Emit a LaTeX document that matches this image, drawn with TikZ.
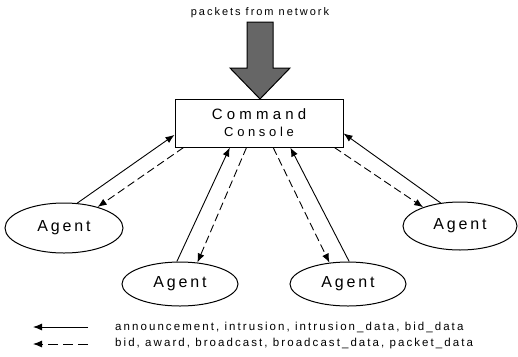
\documentclass[tikz,border=0pt]{standalone}
\usepackage{fontspec}
\setmainfont{Liberation Sans}
\newfontfamily\spacedfont[LetterSpace=18]{Liberation Sans}
\newfontfamily\widefont[LetterSpace=28]{Liberation Sans}
\usetikzlibrary{shapes.geometric,arrows.meta}

\begin{document}
\begin{tikzpicture}[x=1pt,y=1pt]
    \tikzstyle{agent}=[ellipse,draw,line width=1pt,inner sep=0pt,font=\spacedfont\fontsize{16}{18}\selectfont]
    \tikzstyle{msg}=[line width=0.9pt,-{Latex[length=9pt,width=7pt]}]
    \tikzstyle{bidmsg}=[msg,dash pattern=on 8pt off 4pt]
    \tikzstyle{legendtext}=[anchor=west,inner sep=0pt,font=\spacedfont\fontsize{11.5}{13}\selectfont]
    \useasboundingbox (0,0) rectangle (518,-356);

    \node[inner sep=0pt,font=\spacedfont\fontsize{11}{13}\selectfont] (source) at (260,-13) {packets from network};
    \draw[line width=1pt,fill=black!60] (247,-22) -- (273,-22) -- (273,-68) -- (290,-68)
        -- (260,-99) -- (230,-68) -- (247,-68) -- cycle;

    \node[rectangle,draw,line width=1pt,minimum width=168pt,minimum height=48pt,align=center,
        font=\widefont\fontsize{15}{17}\selectfont] (console) at (259,-123)
        {Command\\{\fontsize{13}{17}\selectfont Console}};

    \node[agent,minimum width=118pt,minimum height=50pt] (agentA) at (64,-228) {Agent};
    \node[agent,minimum width=116pt,minimum height=44pt] (agentB) at (180,-284) {Agent};
    \node[agent,minimum width=116pt,minimum height=44pt] (agentC) at (348,-284) {Agent};
    \node[agent,minimum width=114pt,minimum height=48pt] (agentD) at (460,-226) {Agent};

    \draw[msg] (agentA.62) -- (console.188);
    \draw[bidmsg] (console.198) -- (agentA.32);
    \draw[msg] (agentB.98) -- (console.220);
    \draw[bidmsg] (console.243) -- (agentB.51);
    \draw[bidmsg] (console.300) -- (agentC.131);
    \draw[msg] (agentC.87) -- (console.322);
    \draw[bidmsg] (console.342) -- (agentD.153);
    \draw[msg] (agentD.130) -- (console.353);

    \coordinate (keyA) at (88,-327);
    \coordinate (keyA') at (33,-327);
    \coordinate (keyB) at (88,-344);
    \coordinate (keyB') at (33,-344);
    \draw[msg] (keyA) -- (keyA');
    \draw[msg,dash pattern=on 10pt off 5pt] (keyB) -- (keyB');
    \node[legendtext] (keytextA) at (115,-327) {announcement, intrusion, intrusion\_data, bid\_data};
    \node[legendtext] (keytextB) at (115,-344) {bid, award, broadcast, broadcast\_data, packet\_data};
\end{tikzpicture}
\end{document}
